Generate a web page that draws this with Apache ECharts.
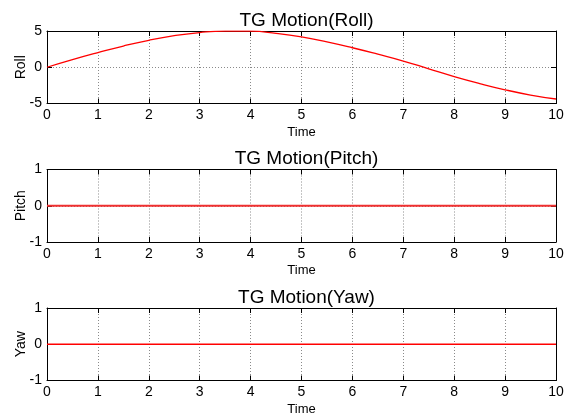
<!DOCTYPE html>
<html><head><meta charset="utf-8">
<script src="https://cdn.jsdelivr.net/npm/echarts@6/dist/echarts.min.js"></script>
<style>html,body{margin:0;padding:0;background:#fff}#c{width:572px;height:416px}</style>
</head><body><div id="c"></div>
<script>
const timeValues = [0,0.5,1,1.5,2,2.5,3,3.5,4,4.5,5,5.5,6,6.5,7,7.5,8,8.5,9,9.5,10];
const rollValues = [0,1.05,2.02,2.93,3.72,4.35,4.79,4.99,4.97,4.68,4.2,3.5,2.69,1.8,0.86,-0.22,-1.29,-2.25,-3.11,-3.83,-4.38];
const pitchValues = [0,0,0,0,0,0,0,0,0,0,0,0,0,0,0,0,0,0,0,0,0];
const yawValues = [0,0,0,0,0,0,0,0,0,0,0,0,0,0,0,0,0,0,0,0,0];
const titles = ['TG Motion(Roll)','TG Motion(Pitch)','TG Motion(Yaw)'];
const yNames = ['Roll','Pitch','Yaw'];
const yRanges = [[-5,5,5],[-1,1,1],[-1,1,1]];
const xName = 'Time';

const FONT = "'Liberation Sans', Arial, sans-serif";
const tops = [31, 169.5, 308];
const H = 72.5;
const chart = echarts.init(document.getElementById('c'));
const grids = [], xAxes = [], yAxes = [], series = [], titleOpts = [];
const seriesData = [rollValues, pitchValues, yawValues];
const dotted = {show:true, lineStyle:{color:'#8a8a8a', type:[1,2], width:1}};
for (let i = 0; i < 3; i++) {
  grids.push({left:47, right:16, top:tops[i], height:H, containLabel:false, outerBoundsMode:'none'});
  titleOpts.push({text:titles[i], left:301.5, textAlign:'center', top:tops[i]-25,
    textStyle:{fontFamily:FONT, fontSize:19, fontWeight:'normal', color:'#000'}});
  const xBase = {type:'value', gridIndex:i, min:0, max:10, interval:1};
  xAxes.push(Object.assign({}, xBase, {position:'bottom', name:xName, nameLocation:'middle', nameGap:22,
    nameMoveOverlap:false,
    nameTextStyle:{fontFamily:FONT, fontSize:13, color:'#000'},
    axisLine:{show:true, onZero:false, lineStyle:{color:'#000', width:1}},
    axisTick:{show:true, inside:true, length:5, lineStyle:{color:'#000'}},
    axisLabel:{show:true, fontFamily:FONT, fontSize:14, color:'#000', margin:5},
    splitLine:dotted}));
  xAxes.push(Object.assign({}, xBase, {position:'top',
    axisLine:{show:true, onZero:false, lineStyle:{color:'#000', width:1}},
    axisTick:{show:true, inside:true, length:5, lineStyle:{color:'#000'}},
    axisLabel:{show:false}, splitLine:{show:false}}));
  const r = yRanges[i];
  const yBase = {type:'value', gridIndex:i, min:r[0], max:r[1], interval:r[2]};
  yAxes.push(Object.assign({}, yBase, {position:'left', name:yNames[i], nameLocation:'middle', nameGap:19,
    nameMoveOverlap:false,
    nameTextStyle:{fontFamily:FONT, fontSize:14, color:'#000'},
    axisLine:{show:true, onZero:false, lineStyle:{color:'#000', width:1}},
    axisTick:{show:true, inside:true, length:5, lineStyle:{color:'#000'}},
    axisLabel:{show:true, fontFamily:FONT, fontSize:14, color:'#000', margin:5},
    splitLine:dotted}));
  yAxes.push(Object.assign({}, yBase, {position:'right',
    axisLine:{show:true, onZero:false, lineStyle:{color:'#000', width:1}},
    axisTick:{show:true, inside:true, length:5, lineStyle:{color:'#000'}},
    axisLabel:{show:false}, splitLine:{show:false}}));
  series.push({type:'line', xAxisIndex:2*i, yAxisIndex:2*i, showSymbol:false, smooth:true,
    data:timeValues.map((t,k)=>[t, seriesData[i][k]]),
    lineStyle:{color: i===1 ? '#f03030' : '#ff0000', width: i===1 ? 1.8 : 1.3},
    z:5, animation:false});
}
chart.setOption({animation:false, title:titleOpts, grid:grids, xAxis:xAxes, yAxis:yAxes, series:series});
</script></body></html>
